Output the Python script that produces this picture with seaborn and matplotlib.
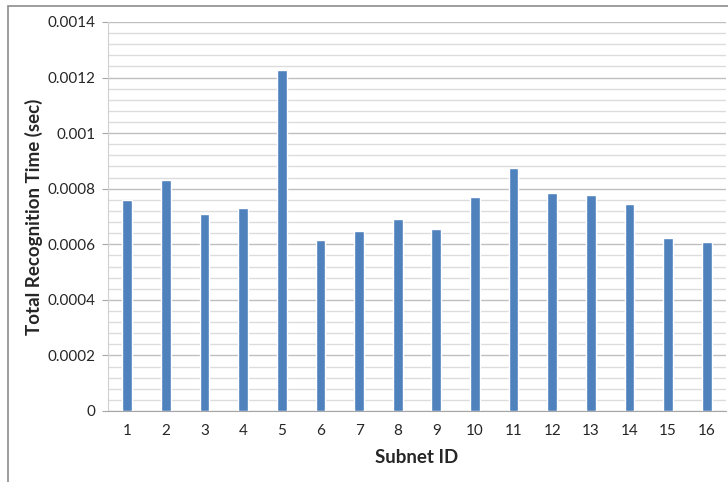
import matplotlib
matplotlib.use("Agg")
import matplotlib.pyplot as plt
import seaborn as sns
import pandas as pd
from matplotlib.patches import Rectangle
from matplotlib.ticker import MultipleLocator

subnet_ids = [str(i) for i in range(1, 17)]
recognition_time = [0.000758, 0.000832, 0.000709, 0.000729, 0.001226, 0.000615,
                    0.000649, 0.000690, 0.000654, 0.000771, 0.000874, 0.000783,
                    0.000779, 0.000745, 0.000622, 0.000609]
y_ticks = [0, 0.0002, 0.0004, 0.0006, 0.0008, 0.001, 0.0012, 0.0014]
y_tick_labels = ["0", "0.0002", "0.0004", "0.0006", "0.0008", "0.001", "0.0012", "0.0014"]

df = pd.DataFrame({"subnet": subnet_ids, "time": recognition_time})

sns.set_style("white")
plt.rcParams["font.family"] = ["Lato", "DejaVu Sans"]

fig = plt.figure(figsize=(7.28, 4.82), dpi=100)
ax = fig.add_axes([108 / 728, 1 - 411 / 482, 618 / 728, 389 / 482])

# chart border (cropped on right and bottom)
fig.patches.append(Rectangle((8 / 728, -0.1), 1.2, 1 - 6 / 482 + 0.1,
                             transform=fig.transFigure, fill=False,
                             edgecolor="#8c8c8c", linewidth=1.2))

sns.barplot(data=df, x="subnet", y="time", color="#4f81bd", saturation=1,
            width=0.25, ax=ax, zorder=3)

ax.set_ylim(0, 0.0014)
ax.set_xlim(-0.5, 15.5)
ax.set_yticks(y_ticks)
ax.set_yticklabels(y_tick_labels)
ax.yaxis.set_minor_locator(MultipleLocator(0.00004))
ax.grid(axis="y", which="major", color="#bfbfbf", linewidth=1.0, zorder=0)
ax.grid(axis="y", which="minor", color="#dcdcdc", linewidth=1.0, zorder=0)
ax.set_axisbelow(True)

for side in ["top", "right"]:
    ax.spines[side].set_visible(False)
ax.spines["left"].set_color("#d0d0d0")
ax.spines["bottom"].set_color("#a6a6a6")

ax.tick_params(axis="y", which="major", left=True, length=4, color="#a6a6a6",
               labelsize=11, labelcolor="#262626", pad=5)
ax.tick_params(axis="y", which="minor", left=False)
ax.tick_params(axis="x", bottom=False, labelsize=11, labelcolor="#262626", pad=6)

ax.set_xlabel("Subnet ID", fontsize=13.5, fontweight="bold", color="#262626", labelpad=8)
ax.set_ylabel("Total Recognition Time (sec)", fontsize=13.5, fontweight="bold",
              color="#262626", labelpad=3)

fig.savefig("out.png", dpi=100)
